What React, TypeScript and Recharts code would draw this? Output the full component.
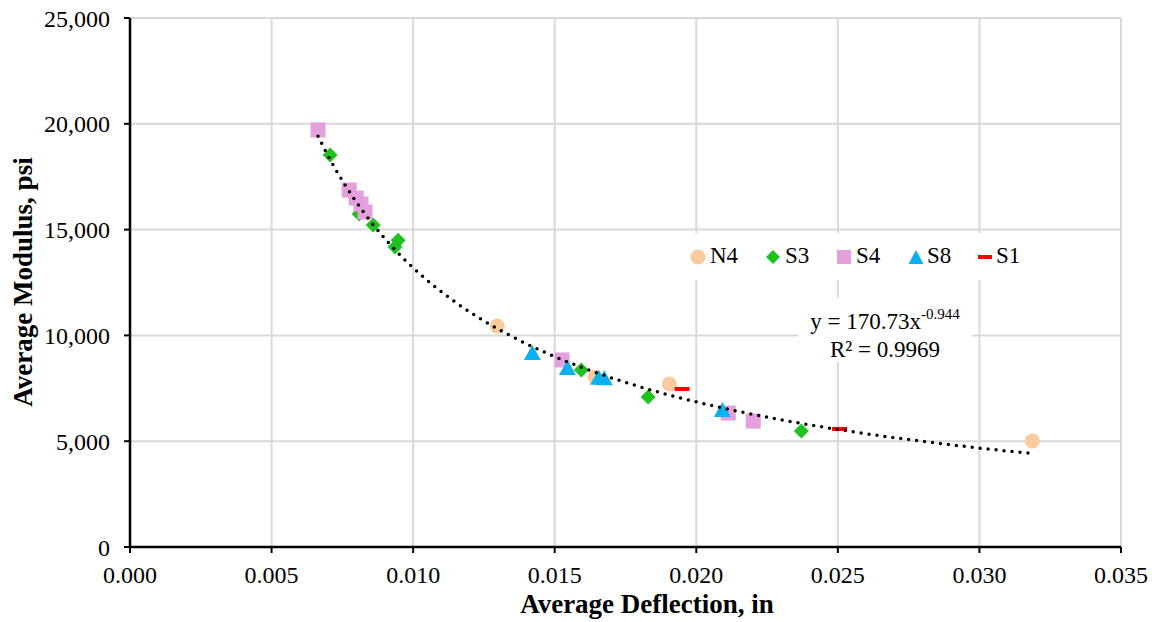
import React from "react";
import {
  ScatterChart,
  Scatter,
  XAxis,
  YAxis,
  CartesianGrid,
  Label,
} from "recharts";

interface IPoint {
  x: number;
  y: number;
}

// measured deflection (in) vs. back-calculated modulus (psi) per section
const n4: IPoint[] = [
  { x: 0.01297, y: 10440 },
  { x: 0.01643, y: 8030 },
  { x: 0.01905, y: 7700 },
  { x: 0.03187, y: 5010 },
];

const s3: IPoint[] = [
  { x: 0.00707, y: 18530 },
  { x: 0.00809, y: 15740 },
  { x: 0.00859, y: 15220 },
  { x: 0.00947, y: 14500 },
  { x: 0.00936, y: 14180 },
  { x: 0.01594, y: 8370 },
  { x: 0.0183, y: 7090 },
  { x: 0.02371, y: 5480 },
];

const s4: IPoint[] = [
  { x: 0.00664, y: 19710 },
  { x: 0.00774, y: 16870 },
  { x: 0.00799, y: 16490 },
  { x: 0.00816, y: 16210 },
  { x: 0.0083, y: 15830 },
  { x: 0.01526, y: 8840 },
  { x: 0.02113, y: 6330 },
  { x: 0.02201, y: 5950 },
];

const s8: IPoint[] = [
  { x: 0.01421, y: 9170 },
  { x: 0.01545, y: 8460 },
  { x: 0.01655, y: 8000 },
  { x: 0.01675, y: 7980 },
  { x: 0.02092, y: 6470 },
];

const s1: IPoint[] = [
  { x: 0.0195, y: 7470 },
  { x: 0.02506, y: 5580 },
];

const xTicks = [0, 0.005, 0.01, 0.015, 0.02, 0.025, 0.03, 0.035];
const yTicks = [0, 5000, 10000, 15000, 20000, 25000];

// power trendline y = a * x^b
const trendA = 170.73;
const trendB = -0.944;
const trendR2 = 0.9969;
const trendFrom = 0.00664;
const trendTo = 0.03187;

const trend: IPoint[] = [];
for (let i = 0; i <= 80; i++) {
  const x = trendFrom + ((trendTo - trendFrom) * i) / 80;
  trend.push({ x, y: trendA * Math.pow(x, trendB) });
}

const COLORS = {
  N4: "#FACB9E",
  S3: "#1FC21F",
  S4: "#E4A0DC",
  S8: "#0BB0EE",
  S1: "#FF0000",
};

const FONT = '"Liberation Serif", "Times New Roman", serif';

const CircleDot = (p: any) => (
  <circle cx={p.cx} cy={p.cy} r={7.5} fill={COLORS.N4} />
);
const DiamondDot = (p: any) => (
  <path
    d={`M${p.cx},${p.cy - 7.5}L${p.cx + 7.5},${p.cy}L${p.cx},${p.cy + 7.5}L${p.cx - 7.5},${p.cy}Z`}
    fill={COLORS.S3}
  />
);
const SquareDot = (p: any) => (
  <rect x={p.cx - 7.5} y={p.cy - 7.5} width={15} height={15} fill={COLORS.S4} />
);
const TriangleDot = (p: any) => (
  <path
    d={`M${p.cx},${p.cy - 8}L${p.cx + 8.5},${p.cy + 7}L${p.cx - 8.5},${p.cy + 7}Z`}
    fill={COLORS.S8}
  />
);
const DashDot = (p: any) => (
  <rect x={p.cx - 7.5} y={p.cy - 2} width={15} height={4} fill={COLORS.S1} />
);
const NoDot = () => <g />;

// legend entries: icon centre and text start (px)
const legendItems = [
  { name: "N4", iconX: 698, textX: 710, icon: <circle cx={8} cy={8} r={7.5} fill={COLORS.N4} /> },
  { name: "S3", iconX: 773, textX: 785, icon: <path d="M8,1L15,8L8,15L1,8Z" fill={COLORS.S3} /> },
  { name: "S4", iconX: 844, textX: 856, icon: <rect x={1} y={1} width={14} height={14} fill={COLORS.S4} /> },
  { name: "S8", iconX: 916, textX: 927, icon: <path d="M8,1L15.5,15L0.5,15Z" fill={COLORS.S8} /> },
  { name: "S1", iconX: 985, textX: 996, icon: <rect x={1} y={6} width={14} height={4} fill={COLORS.S1} /> },
];

export default function App() {
  return (
    <div
      style={{
        position: "absolute",
        left: 0,
        top: 0,
        width: 1156,
        height: 622,
        background: "#fff",
        fontFamily: FONT,
      }}
    >
      <ScatterChart
        width={1156}
        height={622}
        margin={{ top: 18, right: 35, bottom: 0, left: 0 }}
      >
        <CartesianGrid stroke="#d9d9d9" strokeWidth={2} />
        <XAxis
          type="number"
          dataKey="x"
          domain={[0, 0.035]}
          ticks={xTicks}
          tickFormatter={(v: number) => v.toFixed(3)}
          height={75}
          axisLine={{ stroke: "#000", strokeWidth: 2.5 }}
          tickLine={{ stroke: "#000", strokeWidth: 2 }}
          tickSize={6}
          tickMargin={13}
          tick={{ fill: "#000", fontSize: 24, fontFamily: FONT }}
        >
          <Label
            content={() => (
              <text
                x={647}
                y={613}
                textAnchor="middle"
                fontFamily={FONT}
                fontSize={27}
                fontWeight="bold"
                fill="#000"
              >
                Average Deflection, in
              </text>
            )}
          />
        </XAxis>
        <YAxis
          type="number"
          dataKey="y"
          domain={[0, 25000]}
          ticks={yTicks}
          tickFormatter={(v: number) => v.toLocaleString("en-US")}
          width={130}
          axisLine={{ stroke: "#000", strokeWidth: 2.5 }}
          tickLine={{ stroke: "#000", strokeWidth: 2 }}
          tickSize={6}
          tickMargin={14}
          tick={{ fill: "#000", fontSize: 24, fontFamily: FONT }}
        >
          <Label
            content={() => (
              <text
                x={23}
                y={282}
                transform="rotate(-90, 23, 282)"
                textAnchor="middle"
                dominantBaseline="central"
                fontFamily={FONT}
                fontSize={27}
                fontWeight="bold"
                fill="#000"
              >
                Average Modulus, psi
              </text>
            )}
          />
        </YAxis>
        <Scatter name="N4" data={n4} shape={CircleDot} isAnimationActive={false} />
        <Scatter name="S3" data={s3} shape={DiamondDot} isAnimationActive={false} />
        <Scatter name="S4" data={s4} shape={SquareDot} isAnimationActive={false} />
        <Scatter name="S8" data={s8} shape={TriangleDot} isAnimationActive={false} />
        <Scatter name="S1" data={s1} shape={DashDot} isAnimationActive={false} />
        <Scatter
          name="Power"
          data={trend}
          shape={NoDot}
          line={{
            stroke: "#000",
            strokeWidth: 3.5,
            strokeDasharray: "0 8",
            strokeLinecap: "round",
          }}
          isAnimationActive={false}
        />
      </ScatterChart>

      {/* legend */}
      <div
        style={{
          position: "absolute",
          left: 688,
          top: 233,
          width: 342,
          height: 47,
          background: "#fff",
          fontSize: 23,
          color: "#000",
        }}
      >
        {legendItems.map((it) => (
          <React.Fragment key={it.name}>
            <svg
              width={16}
              height={16}
              style={{ position: "absolute", left: it.iconX - 688 - 8, top: 16 }}
            >
              {it.icon}
            </svg>
            <span
              style={{
                position: "absolute",
                left: it.textX - 688,
                top: 10,
                lineHeight: "26px",
              }}
            >
              {it.name}
            </span>
          </React.Fragment>
        ))}
      </div>

      {/* trendline equation */}
      <div
        style={{
          position: "absolute",
          left: 798,
          top: 298,
          width: 174,
          height: 64,
          paddingTop: 2,
          boxSizing: "border-box",
          background: "#fff",
          textAlign: "center",
          fontSize: 23,
          lineHeight: "28px",
          color: "#000",
        }}
      >
        <div>
          y = {trendA}x<sup style={{ fontSize: 15, verticalAlign: 10 }}>{trendB}</sup>
        </div>
        <div>R² = {trendR2}</div>
      </div>
    </div>
  );
}
